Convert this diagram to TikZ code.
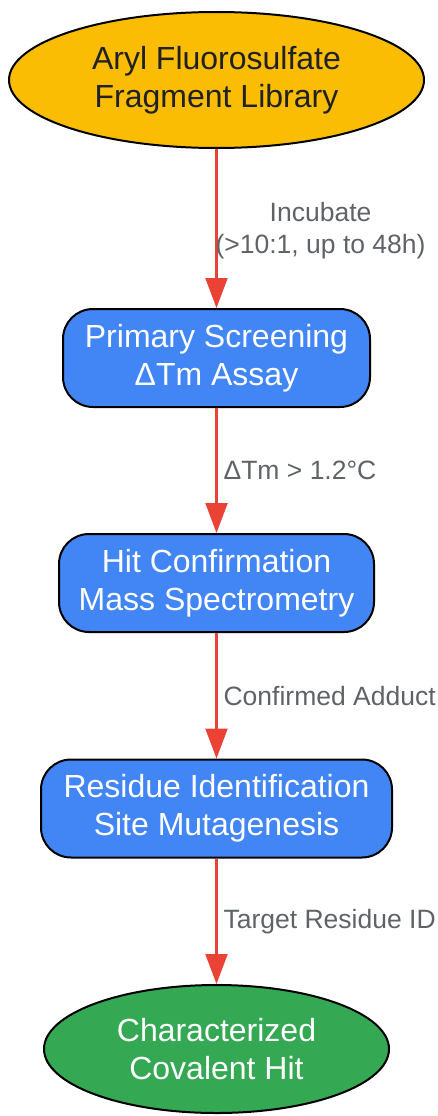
\documentclass[tikz,border=0pt]{standalone}
\usepackage{fontspec}
\setmainfont{Liberation Sans}
\usepackage{tikz}
\usetikzlibrary{shapes.geometric,arrows.meta}
\definecolor{gOrange}{HTML}{FBBC04}
\definecolor{gBlue}{HTML}{4285F4}
\definecolor{gGreen}{HTML}{34A853}
\definecolor{gRed}{HTML}{EA4335}
\definecolor{gGray}{HTML}{5F6368}
\definecolor{gDark}{HTML}{202124}

\begin{document}
\begin{tikzpicture}[x=1pt,y=-1pt]
        \useasboundingbox (0,0) rectangle (438,1116);
        \begin{scope}[
            every node/.style={draw=black,line width=2pt,align=center,inner sep=0pt,
                font=\fontsize{32}{38}\selectfont},
            stepbox/.style={rectangle,rounded corners=30pt,fill=gBlue,text=white,minimum height=98pt}
        ]
            \node[ellipse,fill=gOrange,text=gDark,minimum width=415pt,minimum height=136pt] (lib) at (216.5, 80) {Aryl Fluorosulfate\\Fragment Library};

            \node[stepbox,minimum width=307pt] (screen) at (216.5, 358) {Primary Screening\\ΔTm Assay};
            \node[stepbox,minimum width=315pt] (confirm) at (216.5, 583) {Hit Confirmation\\Mass Spectrometry};
            \node[stepbox,minimum width=351pt] (resid) at (216.5, 808.5) {Residue Identification\\Site Mutagenesis};

            \node[ellipse,fill=gGreen,text=white,minimum width=345pt,minimum height=128pt] (hit) at (216.5, 1049) {Characterized\\Covalent Hit};
        \end{scope}
        \begin{scope}[
            every node/.style={text=gGray,inner sep=0pt,anchor=west,align=center,
                font=\fontsize{26.5}{32}\selectfont},
            every edge/.style={draw=gRed,line width=2.2pt}
        ]
            \path [-{Triangle[length=30pt,width=22pt]}] (lib) edge node[xshift=-2pt,yshift=-2pt] {Incubate\\(>10:1, up to 48h)} (screen);
            \path [-{Triangle[length=30pt,width=22pt]}] (screen) edge node[xshift=6pt] {ΔTm > 1.2°C} (confirm);
            \path [-{Triangle[length=30pt,width=22pt]}] (confirm) edge node[xshift=6pt] {Confirmed Adduct} (resid);
            \path [-{Triangle[length=30pt,width=22pt]}] (resid) edge node[xshift=6pt] {Target Residue ID} (hit);
        \end{scope}
    \end{tikzpicture}
\end{document}
